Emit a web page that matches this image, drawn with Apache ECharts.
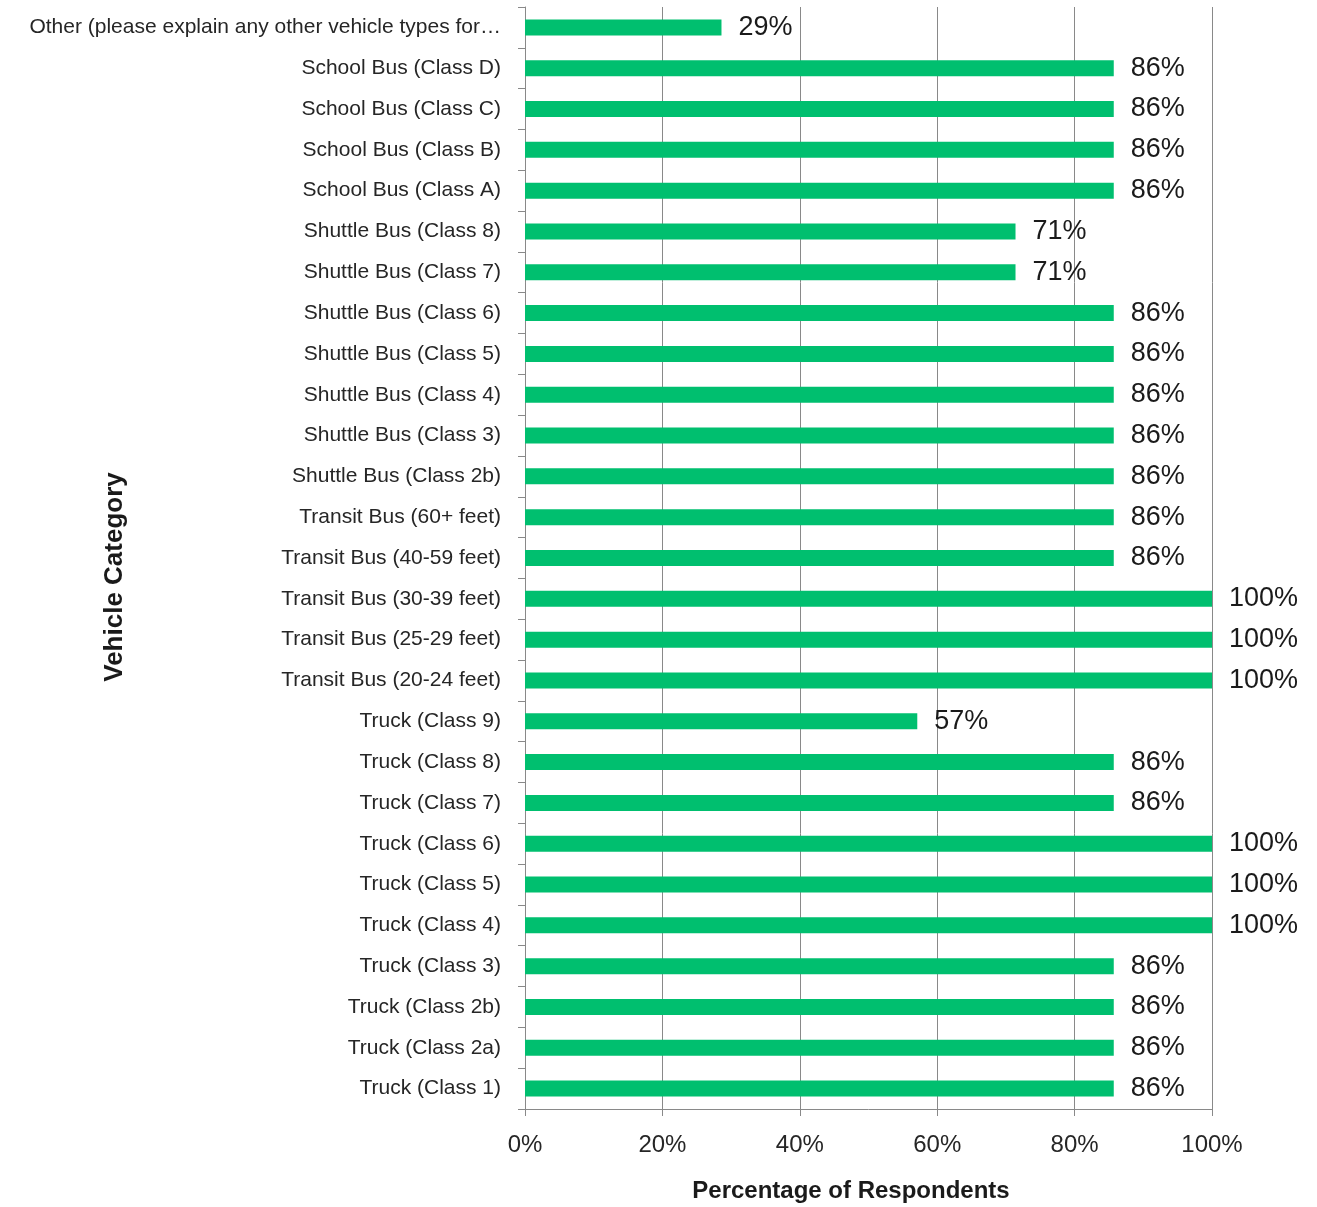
<!DOCTYPE html>
<html>
<head>
<meta charset="utf-8">
<script src="https://cdn.jsdelivr.net/npm/echarts@6/dist/echarts.min.js"></script>
<style>html,body{margin:0;padding:0;background:#fff;}#chart{width:1317px;height:1207px;}</style>
</head>
<body>
<div id="chart"></div>
<script>
// Categories listed bottom to top
const categories = [
  'Truck (Class 1)', 'Truck (Class 2a)', 'Truck (Class 2b)', 'Truck (Class 3)',
  'Truck (Class 4)', 'Truck (Class 5)', 'Truck (Class 6)', 'Truck (Class 7)',
  'Truck (Class 8)', 'Truck (Class 9)',
  'Transit Bus (20-24 feet)', 'Transit Bus (25-29 feet)', 'Transit Bus (30-39 feet)',
  'Transit Bus (40-59 feet)', 'Transit Bus (60+ feet)',
  'Shuttle Bus (Class 2b)', 'Shuttle Bus (Class 3)', 'Shuttle Bus (Class 4)',
  'Shuttle Bus (Class 5)', 'Shuttle Bus (Class 6)', 'Shuttle Bus (Class 7)',
  'Shuttle Bus (Class 8)',
  'School Bus (Class A)', 'School Bus (Class B)', 'School Bus (Class C)', 'School Bus (Class D)',
  'Other (please explain any other vehicle types for\u2026'
];
const percentages = [
  85.7, 85.7, 85.7, 85.7,
  100, 100, 100, 85.7,
  85.7, 57.1,
  100, 100, 100,
  85.7, 85.7,
  85.7, 85.7, 85.7,
  85.7, 85.7, 71.4,
  71.4,
  85.7, 85.7, 85.7, 85.7,
  28.6
];
const xTicks = [0, 20, 40, 60, 80, 100];

const FONT = 'Liberation Sans';
const chart = echarts.init(document.getElementById('chart'));
chart.setOption({
  animation: false,
  backgroundColor: '#ffffff',
  textStyle: { fontFamily: FONT },
  grid: { left: 525, right: 105, top: 7, bottom: 98, containLabel: false, outerBoundsMode: 'none' },
  xAxis: {
    type: 'value',
    min: xTicks[0],
    max: xTicks[xTicks.length - 1],
    interval: 20,
    name: 'Percentage of Respondents',
    nameLocation: 'middle',
    nameGap: 70,
    nameMoveOverlap: false,
    nameTextStyle: { fontFamily: FONT, fontSize: 24, fontWeight: 'bold', color: '#1a1a1a', padding: [0, 35, 0, 0] },
    axisLine: { show: true, lineStyle: { color: '#898989', width: 1 } },
    axisTick: { show: true, length: 7, lineStyle: { color: '#898989' } },
    axisLabel: { fontFamily: FONT, fontSize: 24, color: '#262626', margin: 24, formatter: v => v + '%' },
    splitLine: { show: true, lineStyle: { color: '#898989', width: 1 } }
  },
  yAxis: {
    type: 'category',
    data: categories,
    name: 'Vehicle Category',
    nameLocation: 'middle',
    nameGap: 397,
    nameRotate: 90,
    nameMoveOverlap: false,
    nameTextStyle: { fontFamily: FONT, fontSize: 26, fontWeight: 'bold', color: '#1a1a1a', padding: [0, 38, 0, 0] },
    axisLine: { show: true, lineStyle: { color: '#898989', width: 1 } },
    axisTick: { show: true, length: 7, alignWithLabel: false, lineStyle: { color: '#898989' } },
    axisLabel: { fontFamily: FONT, fontSize: 21, color: '#262626', margin: 24, interval: 0 },
    splitLine: { show: false }
  },
  series: [{
    type: 'bar',
    data: percentages,
    barWidth: 16,
    itemStyle: { color: '#00BF6F' },
    label: {
      show: true,
      position: 'right',
      distance: 17,
      fontFamily: FONT,
      fontSize: 27,
      color: '#1a1a1a',
      formatter: p => Math.round(p.value) + '%'
    }
  }]
});
</script>
</body>
</html>
